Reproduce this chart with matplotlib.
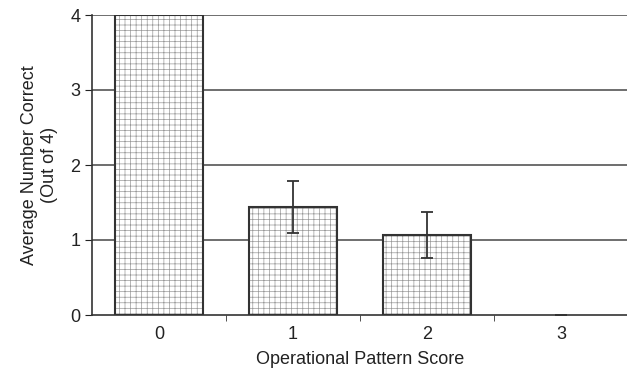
import matplotlib
matplotlib.use("Agg")
import matplotlib.pyplot as plt
import numpy as np

plt.rcParams['font.family'] = ['Liberation Sans', 'DejaVu Sans']
plt.rcParams['hatch.linewidth'] = 0.5

categories = ['0', '1', '2', '3']
values = [4.0, 1.44, 1.07, 0.0]
errors = [0.0, 0.35, 0.31, 0.0]
show_err = [False, True, True, True]

fig = plt.figure(figsize=(6.27, 3.75), dpi=100)
ax = fig.add_axes([92/627, 1 - 315/375, 536/627, 300/375])

x = np.arange(len(categories))
ax.set_xlim(-0.5, 3.5)
ax.set_ylim(0, 4)

for yv in [1, 2, 3, 4]:
    ax.axhline(yv, color='#555555', lw=1.2, zorder=0)

bars = ax.bar(x, values, width=0.66, facecolor='white', edgecolor='#333333',
              linewidth=1.5, hatch='+++', zorder=2)
for b, v in zip(bars, values):
    b._hatch_color = matplotlib.colors.to_rgba('#999999')
    if v == 0:
        b.set_linewidth(0)

for i in range(len(categories)):
    if show_err[i]:
        ax.errorbar(x[i], values[i], yerr=errors[i], fmt='none', ecolor='#333333',
                    elinewidth=1.3, capsize=4, capthick=1.3, zorder=3)

for s in ['top', 'right']:
    ax.spines[s].set_visible(False)
ax.spines['left'].set_color('#333333')
ax.spines['bottom'].set_color('#333333')
ax.spines['left'].set_linewidth(1.2)
ax.spines['bottom'].set_linewidth(1.2)

ax.set_yticks([0, 1, 2, 3, 4])
ax.tick_params(axis='y', direction='out', length=5, labelsize=13, colors='#222222')
ax.set_xticks(x)
ax.set_xticklabels(categories)
ax.tick_params(axis='x', length=0, labelsize=13, pad=8, colors='#222222')
ax.set_xticks([0.5, 1.5, 2.5], minor=True)
ax.tick_params(axis='x', which='minor', direction='out', length=4, color='#333333')

ax.set_xlabel('Operational Pattern Score', fontsize=13, color='#222222', labelpad=6)
ax.set_ylabel('Average Number Correct\n(Out of 4)', fontsize=13, color='#222222', labelpad=9)

fig.savefig('out.png', dpi=100)
